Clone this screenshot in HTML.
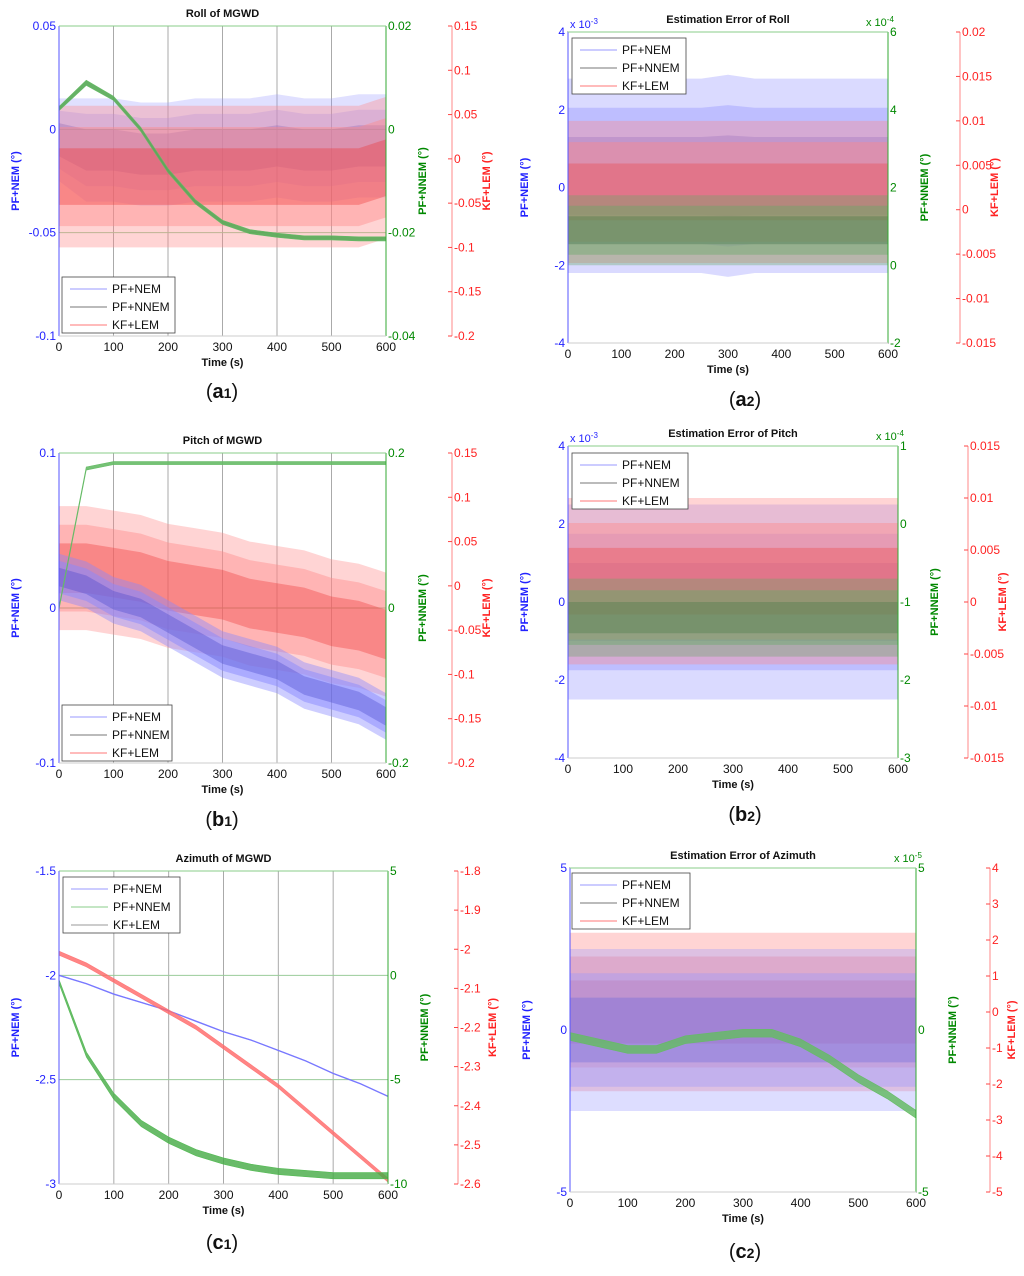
<!DOCTYPE html>
<html><head><meta charset="utf-8"><style>
body{margin:0;background:#fff;font-family:"Liberation Sans",sans-serif}
svg text{font-family:"Liberation Sans",sans-serif}
</style></head><body>
<svg id="fig" width="1024" height="1271" viewBox="0 0 1024 1271" xmlns="http://www.w3.org/2000/svg"></svg>
<script>
// time samples (s)
const T = [0,50,100,150,200,250,300,350,400,450,500,550,600];
// a1 Roll of MGWD
const a1BlueMean = [-0.005,-0.01,-0.01,-0.012,-0.012,-0.01,-0.01,-0.01,-0.008,-0.01,-0.01,-0.008,-0.008];
const a1BlueAmp  = [0.02,0.025,0.025,0.025,0.025,0.025,0.025,0.025,0.025,0.025,0.025,0.025,0.025];
const a1GreenMean= [0.004,0.009,0.006,0.0,-0.008,-0.014,-0.018,-0.0198,-0.0205,-0.021,-0.021,-0.0212,-0.0212];
const a1GreenAmp = [0.0004,0.0005,0.0004,0.0004,0.0004,0.0004,0.0004,0.0004,0.0004,0.0004,0.0004,0.0004,0.0004];
const a1RedMean  = [-0.02,-0.02,-0.02,-0.02,-0.02,-0.02,-0.02,-0.02,-0.02,-0.02,-0.02,-0.02,-0.01];
const a1RedAmp   = [0.08,0.08,0.08,0.08,0.08,0.08,0.08,0.08,0.08,0.08,0.08,0.08,0.08];
// a2 Estimation error of roll
const a2BlueMean = [0.3,0.3,0.3,0.3,0.3,0.3,0.3,0.3,0.3,0.3,0.3,0.3,0.3];
const a2BlueAmp  = [2.5,2.5,2.5,2.5,2.5,2.5,2.6,2.5,2.5,2.5,2.5,2.5,2.5];
const a2GreenMean= [0.9,0.9,0.9,0.9,0.9,0.9,0.9,0.9,0.9,0.9,0.9,0.9,0.9];
const a2GreenAmp = [0.9,0.9,0.9,0.9,0.9,0.9,0.9,0.9,0.9,0.9,0.9,0.9,0.9];
const a2RedMean  = [0.002,0.002,0.002,0.002,0.002,0.002,0.002,0.002,0.002,0.002,0.002,0.002,0.002];
const a2RedAmp   = [0.008,0.008,0.008,0.008,0.008,0.008,0.008,0.008,0.008,0.008,0.008,0.008,0.008];
// b1 Pitch of MGWD
const b1BlueMean = [0.02,0.015,0.005,0.0,-0.01,-0.02,-0.03,-0.035,-0.04,-0.05,-0.055,-0.06,-0.07];
const b1BlueAmp  = [0.015,0.015,0.015,0.015,0.015,0.015,0.015,0.015,0.015,0.015,0.015,0.015,0.015];
const b1GreenMean= [0.0,0.18,0.187,0.187,0.187,0.187,0.187,0.187,0.187,0.187,0.187,0.187,0.187];
const b1GreenAmp = [0.002,0.002,0.002,0.002,0.002,0.002,0.002,0.002,0.002,0.002,0.002,0.002,0.002];
const b1RedMean  = [0.02,0.02,0.015,0.01,0.0,-0.005,-0.01,-0.02,-0.025,-0.03,-0.04,-0.045,-0.055];
const b1RedAmp   = [0.07,0.07,0.07,0.07,0.07,0.07,0.07,0.07,0.07,0.07,0.07,0.07,0.07];
// b2 Estimation error of pitch
const b2BlueMean = [0,0,0,0,0,0,0,0,0,0,0,0,0];
const b2BlueAmp  = [2.5,2.5,2.5,2.5,2.5,2.5,2.5,2.5,2.5,2.5,2.5,2.5,2.5];
const b2GreenMean= [-1.2,-1.2,-1.2,-1.2,-1.2,-1.2,-1.2,-1.2,-1.2,-1.2,-1.2,-1.2,-1.2];
const b2GreenAmp = [0.5,0.5,0.5,0.5,0.5,0.5,0.5,0.5,0.5,0.5,0.5,0.5,0.5];
const b2RedMean  = [0.002,0.002,0.002,0.002,0.002,0.002,0.002,0.002,0.002,0.002,0.002,0.002,0.002];
const b2RedAmp   = [0.008,0.008,0.008,0.008,0.008,0.008,0.008,0.008,0.008,0.008,0.008,0.008,0.008];
// c1 Azimuth of MGWD
const c1BlueMean = [-2.0,-2.04,-2.09,-2.13,-2.17,-2.22,-2.27,-2.31,-2.36,-2.41,-2.47,-2.52,-2.58];
const c1BlueAmp  = [0.002,0.002,0.002,0.002,0.002,0.002,0.002,0.002,0.002,0.002,0.002,0.002,0.002];
const c1GreenMean= [-0.3,-3.8,-5.8,-7.1,-7.9,-8.5,-8.9,-9.2,-9.4,-9.5,-9.6,-9.6,-9.6];
const c1GreenAmp = [0.1,0.12,0.15,0.15,0.15,0.15,0.15,0.15,0.15,0.15,0.15,0.15,0.15];
const c1RedMean  = [-2.01,-2.04,-2.08,-2.12,-2.16,-2.2,-2.25,-2.3,-2.35,-2.41,-2.47,-2.53,-2.59];
const c1RedAmp   = [0.005,0.005,0.005,0.005,0.005,0.005,0.005,0.005,0.005,0.005,0.005,0.005,0.005];
// c2 Estimation error of azimuth
const c2BlueMean = [0,0,0,0,0,0,0,0,0,0,0,0,0];
const c2BlueAmp  = [2.5,2.5,2.5,2.5,2.5,2.5,2.5,2.5,2.5,2.5,2.5,2.5,2.5];
const c2GreenMean= [-0.2,-0.4,-0.6,-0.6,-0.3,-0.2,-0.1,-0.1,-0.4,-0.9,-1.5,-2.0,-2.6];
const c2GreenAmp = [0.12,0.12,0.12,0.12,0.12,0.12,0.12,0.12,0.12,0.12,0.12,0.12,0.12];
const c2RedMean  = [0,0,0,0,0,0,0,0,0,0,0,0,0];
const c2RedAmp   = [2.2,2.2,2.2,2.2,2.2,2.2,2.2,2.2,2.2,2.2,2.2,2.2,2.2];
// tick label arrays
const xTicks = [0,100,200,300,400,500,600];

const NS='http://www.w3.org/2000/svg';
const svg=document.getElementById('fig');
function mk(tag,attrs,parent,txt){const e=document.createElementNS(NS,tag);for(const k in attrs)e.setAttribute(k,attrs[k]);if(txt!==undefined)e.textContent=txt;(parent||svg).appendChild(e);return e;}

function panel(c){
  const g=mk('g',{});
  
  
  const X=v=>c.x0+(v/600)*(c.x1-c.x0);
  const sc=(ax,y0,y1)=>v=>y0+(ax.max-v)/(ax.max-ax.min)*(y1-y0);
  const YL=sc(c.left,c.y0,c.y1), YG=sc(c.green,c.y0,c.y1), YR=sc(c.red,c.y0,c.y1);
  if(c.grid){
    xTicks.slice(1,-1).forEach(t=>{const l=mk('line',{x1:X(t),x2:X(t),y1:c.y0,y2:c.y1,stroke:'#aaa','stroke-width':1},g);});
    c.hgrid.forEach(h=>{const l=mk('line',{x1:c.x0,x2:c.x1,y1:YL(h.v),y2:YL(h.v),stroke:h.col,'stroke-width':1},g);});
  }
  c.series.forEach(s=>{
    const Y=s.axis==='left'?YL:s.axis==='green'?YG:YR;
    const layers=s.inner?[[1,s.fill,s.op*0.6],[0.7,s.fill,s.op*0.7],[0.4,s.inner,0.35]]:[[1,s.fill,s.op]];
    layers.forEach((ly,li)=>{
      const up=T.map((t,i)=>X(t)+','+Y(s.mean[i]+s.amp[i]*ly[0]));
      const lo=T.map((t,i)=>X(t)+','+Y(s.mean[i]-s.amp[i]*ly[0])).reverse();
      const p=mk('polygon',{points:up.concat(lo).join(' '),fill:ly[1],'fill-opacity':ly[2],stroke:li===0?s.stroke:'none','stroke-width':0.6},g);
      
      
    });
  });
  const bx=mk('rect',{x:c.x0,y:c.y0,width:c.x1-c.x0,height:c.y1-c.y0,fill:'none',stroke:'#222','stroke-width':1,'stroke-dasharray':'1.5 5'},g);
  
  mk('line',{x1:c.x0,x2:c.x0,y1:c.y0,y2:c.y1,stroke:'#55f','stroke-width':1},g);
  mk('line',{x1:c.x1,x2:c.x1,y1:c.y0,y2:c.y1,stroke:'#3a3','stroke-width':1},g);
  mk('line',{x1:c.x0,x2:c.x1,y1:c.y0,y2:c.y0,stroke:'#8c8','stroke-width':1},g);
  mk('line',{x1:c.x0,x2:c.x1,y1:c.y1,y2:c.y1,stroke:'#ccc','stroke-width':1},g);
  mk('line',{x1:c.rx,x2:c.rx,y1:c.y0,y2:c.y1,stroke:'#f88','stroke-width':1},g);
  xTicks.forEach(t=>{const e=mk('text',{x:X(t),y:c.y1+15,'font-size':12,'text-anchor':'middle',fill:'#111'},g,t);});
  c.left.ticks.forEach((v,i)=>{const e=mk('text',{x:c.x0-3,y:YL(v)+4,'font-size':12,'text-anchor':'end',fill:'#22f'},g,c.left.labels[i]);});
  c.green.ticks.forEach((v,i)=>{const e=mk('text',{x:c.x1+2,y:YG(v)+4,'font-size':12,fill:'#080'},g,c.green.labels[i]);});
  c.red.ticks.forEach((v,i)=>{mk('line',{x1:c.rx-4,x2:c.rx,y1:YR(v),y2:YR(v),stroke:'#f44'},g);const e=mk('text',{x:c.rx+2,y:YR(v)+4,'font-size':12,fill:'#f22'},g,c.red.labels[i]);});
  const my=(c.y0+c.y1)/2;
  const rt=c.rx+(c.rtOff||38);
  let e=mk('text',{x:(c.x0+c.x1)/2,y:c.y0-9,'font-size':11,'font-weight':'bold','text-anchor':'middle',fill:'#111'},g,c.title);
  e=mk('text',{x:(c.x0+c.x1)/2,y:c.y1+30,'font-size':11,'font-weight':'bold','text-anchor':'middle',fill:'#111'},g,'Time (s)');
  e=mk('text',{x:c.x0-40,y:my,'font-size':11,'font-weight':'bold','text-anchor':'middle',fill:'#22f',transform:`rotate(-90 ${c.x0-40} ${my})`},g,'PF+NEM (°)');
  e=mk('text',{x:c.x1+40,y:my,'font-size':11,'font-weight':'bold','text-anchor':'middle',fill:'#080',transform:`rotate(-90 ${c.x1+40} ${my})`},g,'PF+NNEM (°)');
  e=mk('text',{x:rt,y:my,'font-size':11,'font-weight':'bold','text-anchor':'middle',fill:'#f22',transform:`rotate(-90 ${rt} ${my})`},g,'KF+LEM (°)');
  e=mk('text',{x:c.capx,y:c.capy,'font-size':20,'text-anchor':'middle',fill:'#111','font-family':'Liberation Serif'},g);
  mk('tspan',{},e,'(');mk('tspan',{'font-weight':'bold'},e,c.cap[0]);mk('tspan',{'font-size':14,'font-weight':'bold'},e,c.cap[1]);mk('tspan',{},e,')');
  if(c.expL){e=mk('text',{x:c.x0+2,y:c.y0-4,'font-size':11,fill:'#22f'},g,'x 10');mk('tspan',{'font-size':8,dy:-4},e,c.expL);}
  if(c.expG){e=mk('text',{x:c.x1-22,y:c.y0-6,'font-size':11,fill:'#080'},g,'x 10');mk('tspan',{'font-size':8,dy:-4},e,c.expG);}
  const L=c.leg;
  const lg=mk('g',{},g);
  mk('rect',{x:L.x,y:L.y,width:L.w,height:56,fill:'#fff',stroke:'#444','stroke-width':0.8},lg);
  L.items.forEach((it,i)=>{
    const row=mk('g',{},lg);
    mk('line',{x1:L.x+8,x2:L.x+45,y1:L.y+12+i*18,y2:L.y+12+i*18,stroke:it[1],'stroke-width':1},row);
    mk('text',{x:L.x+50,y:L.y+16+i*18,'font-size':12,fill:'#111'},row,it[0]);
  });
}
const legStd=[['PF+NEM','#99f'],['PF+NNEM','#777'],['KF+LEM','#f77']];
const legC1=[['PF+NEM','#99f'],['PF+NNEM','#8c8'],['KF+LEM','#999']];
function S(id,axis,mean,amp,fill,op,stroke,inner){return {id,axis,mean,amp,fill,op,stroke,inner};}

panel({name:'panel-a1',title:'Roll of MGWD',x0:59,x1:386,y0:26,y1:336,rx:452,grid:true,
 hgrid:[{v:0,col:'#7a7'},{v:-0.05,col:'#9c9'}],
 left:{min:-0.1,max:0.05,ticks:[0.05,0,-0.05,-0.1],labels:['0.05','0','-0.05','-0.1']},
 green:{min:-0.04,max:0.02,ticks:[0.02,0,-0.02,-0.04],labels:['0.02','0','-0.02','-0.04']},
 red:{min:-0.2,max:0.15,ticks:[0.15,0.1,0.05,0,-0.05,-0.1,-0.15,-0.2],labels:['0.15','0.1','0.05','0','-0.05','-0.1','-0.15','-0.2']},
 series:[S('pf-nem','left',a1BlueMean,a1BlueAmp,'#99f',0.5,'none','#55c'),S('kf-lem','red',a1RedMean,a1RedAmp,'#f88',0.6,'none','#e33'),S('pf-nnem','green',a1GreenMean,a1GreenAmp,'#5a5',0.9,'#6b6')],
 leg:{x:62,y:277,w:113,items:legStd},cap:['a','1'],capx:222,capy:398});

panel({name:'panel-a2',title:'Estimation Error of Roll',x0:568,x1:888,y0:32,y1:343,rx:960,grid:false,hgrid:[],
 left:{min:-4,max:4,ticks:[4,2,0,-2,-4],labels:['4','2','0','-2','-4']},
 green:{min:-2,max:6,ticks:[6,4,2,0,-2],labels:['6','4','2','0','-2']},
 red:{min:-0.015,max:0.02,ticks:[0.02,0.015,0.01,0.005,0,-0.005,-0.01,-0.015],labels:['0.02','0.015','0.01','0.005','0','-0.005','-0.01','-0.015']},
 series:[S('pf-nem','left',a2BlueMean,a2BlueAmp,'#99f',0.6,'none','#66d'),S('kf-lem','red',a2RedMean,a2RedAmp,'#f88',0.6,'none','#e44'),S('pf-nnem','green',a2GreenMean,a2GreenAmp,'#6a6',0.6,'none','#474')],
 leg:{x:572,y:38,w:114,items:legStd},cap:['a','2'],capx:745,capy:406,expL:'-3',expG:'-4'});

panel({name:'panel-b1',title:'Pitch of MGWD',x0:59,x1:386,y0:453,y1:763,rx:452,grid:true,
 hgrid:[{v:0,col:'#7a7'}],
 left:{min:-0.1,max:0.1,ticks:[0.1,0,-0.1],labels:['0.1','0','-0.1']},
 green:{min:-0.2,max:0.2,ticks:[0.2,0,-0.2],labels:['0.2','0','-0.2']},
 red:{min:-0.2,max:0.15,ticks:[0.15,0.1,0.05,0,-0.05,-0.1,-0.15,-0.2],labels:['0.15','0.1','0.05','0','-0.05','-0.1','-0.15','-0.2']},
 series:[S('kf-lem','red',b1RedMean,b1RedAmp,'#f88',0.6,'none','#e33'),S('pf-nem','left',b1BlueMean,b1BlueAmp,'#88f',0.7,'none','#44c'),S('pf-nnem','green',b1GreenMean,b1GreenAmp,'#6b6',0.9,'#6b6')],
 leg:{x:62,y:705,w:110,items:legStd},cap:['b','1'],capx:222,capy:826});

panel({name:'panel-b2',title:'Estimation Error of Pitch',x0:568,x1:898,y0:446,y1:758,rx:968,grid:false,hgrid:[],
 left:{min:-4,max:4,ticks:[4,2,0,-2,-4],labels:['4','2','0','-2','-4']},
 green:{min:-3,max:1,ticks:[1,0,-1,-2,-3],labels:['1','0','-1','-2','-3']},
 red:{min:-0.015,max:0.015,ticks:[0.015,0.01,0.005,0,-0.005,-0.01,-0.015],labels:['0.015','0.01','0.005','0','-0.005','-0.01','-0.015']},
 series:[S('pf-nem','left',b2BlueMean,b2BlueAmp,'#99f',0.6,'none','#66d'),S('kf-lem','red',b2RedMean,b2RedAmp,'#f88',0.6,'none','#e44'),S('pf-nnem','green',b2GreenMean,b2GreenAmp,'#6a6',0.6,'none','#474')],
 leg:{x:572,y:453,w:116,items:legStd},cap:['b','2'],capx:745,capy:821,expL:'-3',expG:'-4'});

panel({name:'panel-c1',title:'Azimuth of MGWD',x0:59,x1:388,y0:871,y1:1184,rx:458,grid:true,
 hgrid:[{v:-2,col:'#9c9'},{v:-2.5,col:'#9c9'}],
 left:{min:-3,max:-1.5,ticks:[-1.5,-2,-2.5,-3],labels:['-1.5','-2','-2.5','-3']},
 green:{min:-10,max:5,ticks:[5,0,-5,-10],labels:['5','0','-5','-10']},
 red:{min:-2.6,max:-1.8,ticks:[-1.8,-1.9,-2,-2.1,-2.2,-2.3,-2.4,-2.5,-2.6],labels:['-1.8','-1.9','-2','-2.1','-2.2','-2.3','-2.4','-2.5','-2.6']},
 series:[S('pf-nem','left',c1BlueMean,c1BlueAmp,'#77f',1,'#77f'),S('kf-lem','red',c1RedMean,c1RedAmp,'#f66',0.8,'#f77'),S('pf-nnem','green',c1GreenMean,c1GreenAmp,'#4a4',0.8,'#5b5')],
 leg:{x:63,y:877,w:117,items:legC1},cap:['c','1'],capx:222,capy:1249});

panel({name:'panel-c2',title:'Estimation Error of Azimuth',x0:570,x1:916,y0:868,y1:1192,rx:990,rtOff:25,grid:false,hgrid:[],
 left:{min:-5,max:5,ticks:[5,0,-5],labels:['5','0','-5']},
 green:{min:-5,max:5,ticks:[5,0,-5],labels:['5','0','-5']},
 red:{min:-5,max:4,ticks:[4,3,2,1,0,-1,-2,-3,-4,-5],labels:['4','3','2','1','0','-1','-2','-3','-4','-5']},
 series:[S('kf-lem','red',c2RedMean,c2RedAmp,'#f88',0.6,'none','#e44'),S('pf-nem','left',c2BlueMean,c2BlueAmp,'#99f',0.55,'none','#66d'),S('pf-nnem','green',c2GreenMean,c2GreenAmp,'#6b6',0.85,'#6b6')],
 leg:{x:572,y:873,w:118,items:legStd},cap:['c','2'],capx:745,capy:1258,expG:'-5'});
</script>
</body></html>
